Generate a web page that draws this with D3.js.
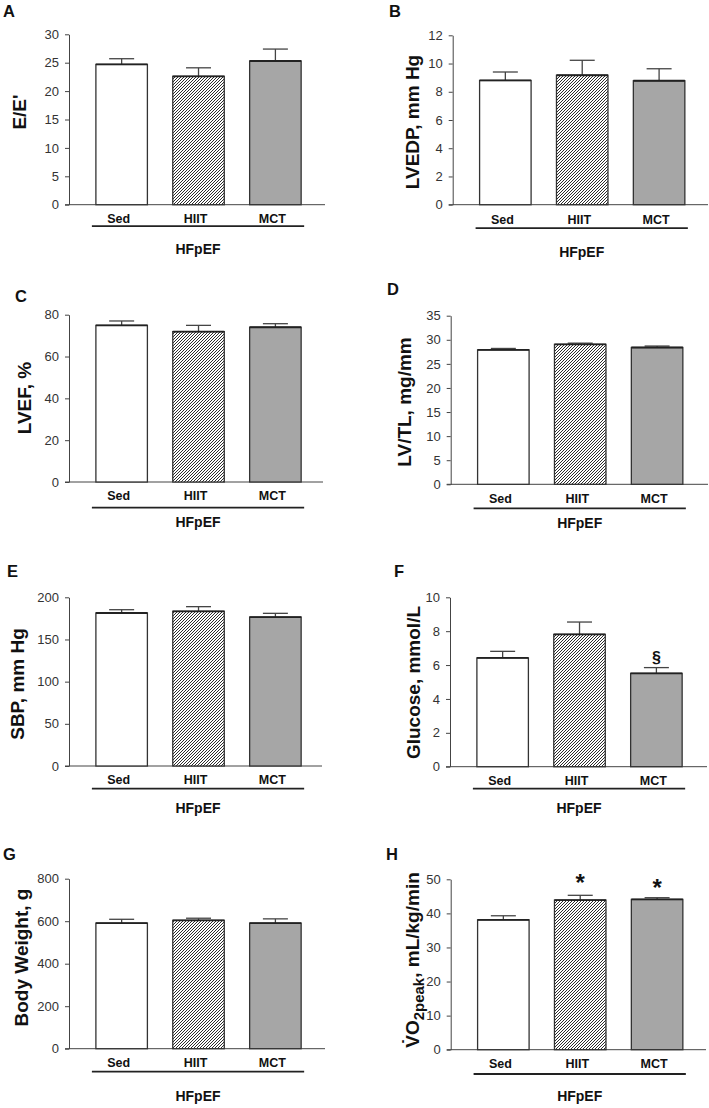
<!DOCTYPE html>
<html><head><meta charset="utf-8">
<script src="https://cdn.jsdelivr.net/npm/d3@7"></script>
<style>
body{margin:0;background:#fff}
svg{display:block}
text{font-family:"Liberation Sans",Arial,Helvetica,sans-serif}
</style>
</head><body>
<script>
// ---------- DATA ----------
const categories = ["Sed", "HIIT", "MCT"];
const groupLabel = "HFpEF";
const panelLetters = ["A", "B", "C", "D", "E", "F", "G", "H"];
const yTitles = ["E/E'", "LVEDP, mm Hg", "LVEF, %", "LV/TL, mg/mm", "SBP, mm Hg", "Glucose, mmol/L", "Body Weight, g", null];
const vo2TitleParts = ["V\u0307O", "2peak", ", mL/kg/min"];
const yMax = [30, 12, 80, 35, 200, 10, 800, 50];
const yStep = [5, 2, 20, 5, 50, 2, 200, 10];

const meanEE = [24.7, 22.6, 25.3],      semEE = [1.0, 1.5, 2.1];
const meanLVEDP = [8.8, 9.17, 8.78],    semLVEDP = [0.6, 1.06, 0.85];
const meanLVEF = [74.9, 71.9, 74.0],    semLVEF = [2.1, 3.0, 1.7];
const meanLVTL = [27.9, 29.05, 28.4],   semLVTL = [0.3, 0.25, 0.3];
const meanSBP = [181.4, 183.4, 176.6],  semSBP = [3.9, 5.5, 4.4];
const meanGlu = [6.42, 7.81, 5.51],     semGlu = [0.39, 0.73, 0.34];
const meanBW = [591, 604, 591],         semBW = [18, 10, 20];
const meanVO2 = [38.1, 43.9, 44.1],     semVO2 = [1.2, 1.4, 0.5];

const annotGlu = ["", "", "\u00a7"];
const annotVO2 = ["", "*", "*"];

const allMeans = [meanEE, meanLVEDP, meanLVEF, meanLVTL, meanSBP, meanGlu, meanBW, meanVO2];
const allSems = [semEE, semLVEDP, semLVEF, semLVTL, semSBP, semGlu, semBW, semVO2];
const allAnnots = [null, null, null, null, null, annotGlu, null, annotVO2];

// ---------- LAYOUT ----------
const layout = [
  {x0:69,    x1:325, yT:34.3,  yB:204.7,  lx:3,   ly:17,  tx:25.7,  tc:112,   cat:18,   line:21.5, grp:49},
  {x0:452.7, x1:708, yT:35.3,  yB:204.7,  lx:389, ly:17,  tx:419,   tc:122,   cat:19,   line:23.5, grp:52},
  {x0:69,    x1:323, yT:314.7, yB:482,    lx:15,  ly:302, tx:30.7,  tc:398,   cat:18,   line:25.7, grp:44.7},
  {x0:450.7, x1:708, yT:315.7, yB:484.3,  lx:387, ly:295, tx:410.7, tc:402,   cat:19,   line:24,   grp:44},
  {x0:69,    x1:322, yT:597.3, yB:766,    lx:7,   ly:577, tx:24,    tc:684,   cat:18,   line:22.7, grp:46.7},
  {x0:450,   x1:707, yT:597.3, yB:766.7,  lx:394, ly:577, tx:420,   tc:682.5, cat:18.3, line:22,   grp:46},
  {x0:69,    x1:325, yT:878.7, yB:1048.7, lx:3,   ly:860, tx:28.3,  tc:957.5, cat:18.6, line:23,   grp:52},
  {x0:450.7, x1:706, yT:879.3, yB:1049.7, lx:386, ly:860, tx:419,   tc:960,   cat:18.6, line:24.3, grp:51}
];

const W = 709, H = 1108;
const svg = d3.select("body").append("svg").attr("width", W).attr("height", H);

const defs = svg.append("defs");
const pat = defs.append("pattern").attr("id", "hatch").attr("patternUnits", "userSpaceOnUse")
  .attr("width", 3).attr("height", 3);
pat.append("rect").attr("width", 3).attr("height", 3).attr("fill", "#fff");
pat.append("path").attr("d", "M-1,1 L1,-1 M0,3 L3,0 M2,4 L4,2")
  .attr("stroke", "#222").attr("stroke-width", 0.95);

const fills = ["#ffffff", "url(#hatch)", "#a6a6a6"];
const axisColor = "#444";

allMeans.forEach((means, i) => {
  const L = layout[i];
  const sems = allSems[i];
  const g = svg.append("g");

  const x = d3.scaleBand().domain(categories).range([L.x0, L.x0 + 256])
    .paddingInner(0.33).paddingOuter(0.33).align(0.53);
  const y = d3.scaleLinear().domain([0, yMax[i]]).range([L.yB, L.yT]);

  // y axis
  const ticks = d3.range(0, yMax[i] + yStep[i] / 2, yStep[i]);
  const ax = g.append("g").attr("transform", `translate(${L.x0},0)`)
    .call(d3.axisLeft(y).tickValues(ticks).tickSize(4).tickSizeOuter(0).tickPadding(6).tickFormat(d3.format("d")));
  ax.select(".domain").attr("stroke", axisColor).attr("stroke-width", 1);
  ax.selectAll(".tick line").attr("stroke", axisColor);
  ax.selectAll(".tick text").attr("fill", "#333").attr("font-size", 13)
    .attr("font-family", '"Liberation Sans",Arial,sans-serif');

  // x axis line
  g.append("line").attr("x1", L.x0 - 4).attr("x2", L.x1)
    .attr("y1", y(0)).attr("y2", y(0)).attr("stroke", axisColor).attr("stroke-width", 1);

  // error bars
  const eb = g.append("g");
  categories.forEach((c, j) => {
    const cx = x(c) + x.bandwidth() / 2;
    eb.append("line").attr("x1", cx).attr("x2", cx)
      .attr("y1", y(means[j])).attr("y2", y(means[j] + sems[j]))
      .attr("stroke", "#444").attr("stroke-width", 1.3);
    eb.append("line").attr("x1", cx - 12.5).attr("x2", cx + 12.5)
      .attr("y1", y(means[j] + sems[j])).attr("y2", y(means[j] + sems[j]))
      .attr("stroke", "#444").attr("stroke-width", 1.3);
  });

  // bars
  g.selectAll("rect.bar").data(means).join("rect").attr("class", "bar")
    .attr("x", (d, j) => x(categories[j]))
    .attr("width", x.bandwidth())
    .attr("y", d => y(d))
    .attr("height", d => y(0) - y(d))
    .attr("fill", (d, j) => fills[j])
    .attr("stroke", "#333").attr("stroke-width", 1.3);
  // darker top edge
  g.selectAll("line.top").data(means).join("line").attr("class", "top")
    .attr("x1", (d, j) => x(categories[j]))
    .attr("x2", (d, j) => x(categories[j]) + x.bandwidth())
    .attr("y1", d => y(d)).attr("y2", d => y(d))
    .attr("stroke", "#222").attr("stroke-width", 1.8);

  // annotations
  const an = allAnnots[i];
  if (an) {
    categories.forEach((c, j) => {
      if (!an[j]) return;
      const cx = x(c) + x.bandwidth() / 2;
      const top = y(means[j] + sems[j]);
      const isStar = an[j] === "*";
      g.append("text").attr("x", cx).attr("y", isStar ? top - 2 + (j === 2 ? 0 : -2) : top - 5)
        .attr("text-anchor", "middle").attr("font-weight", "bold")
        .attr("font-size", isStar ? 24 : 16).attr("fill", "#111").text(an[j]);
    });
  }

  // category labels
  g.selectAll("text.cat").data(categories).join("text").attr("class", "cat")
    .attr("x", c => x(c) + x.bandwidth() / 2 - 3)
    .attr("y", y(0) + L.cat)
    .attr("text-anchor", "middle").attr("font-weight", "bold").attr("font-size", 12.5)
    .attr("fill", "#111").text(c => c);

  // group underline
  const gx0 = x(categories[0]) - 4;
  const gx1 = x(categories[2]) + x.bandwidth() + 3;
  g.append("line").attr("x1", gx0).attr("x2", gx1)
    .attr("y1", y(0) + L.line).attr("y2", y(0) + L.line)
    .attr("stroke", "#222").attr("stroke-width", 1.8);
  g.append("text").attr("x", (gx0 + gx1) / 2).attr("y", y(0) + L.grp)
    .attr("text-anchor", "middle").attr("font-weight", "bold").attr("font-size", 14)
    .attr("fill", "#111").text(groupLabel);

  // panel letter
  svg.append("text").attr("x", L.lx).attr("y", L.ly).attr("font-weight", "bold")
    .attr("font-size", 16.5).attr("fill", "#111").text(panelLetters[i]);

  // y title
  const t = svg.append("text")
    .attr("transform", `translate(${L.tx},${L.tc}) rotate(-90)`)
    .attr("text-anchor", "middle").attr("font-weight", "bold").attr("font-size", 19)
    .attr("fill", "#111");
  if (yTitles[i]) {
    t.text(yTitles[i]);
  } else {
    t.append("tspan").text(vo2TitleParts[0]);
    t.append("tspan").attr("font-size", 15).attr("dy", 5).text(vo2TitleParts[1]);
    t.append("tspan").attr("dy", -5).text(vo2TitleParts[2]);
  }
});
</script>
</body></html>
